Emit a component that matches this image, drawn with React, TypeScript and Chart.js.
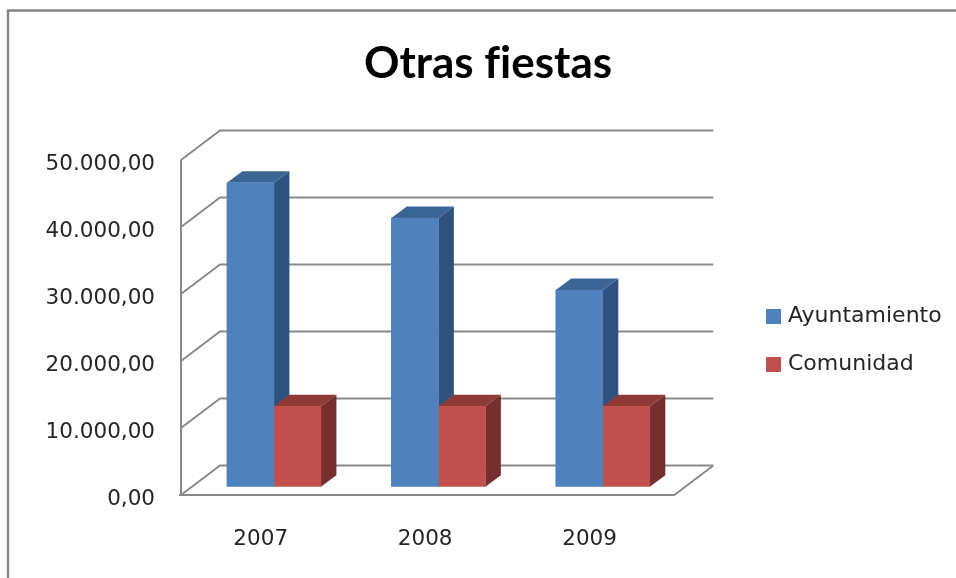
import React, { useEffect, useRef } from "react";
import { Chart, registerables } from "chart.js";

Chart.register(...registerables);

const categories = ["2007", "2008", "2009"];
const ayuntamiento = [45370, 40100, 29350];
const comunidad = [12000, 12000, 12000];
const yTicks = { min: 0, max: 50000, step: 10000 };
const seriesNames = ["Ayuntamiento", "Comunidad"];
const frontColors = ["#4F81BD", "#C0504D"];
const sideColors = ["#30527F", "#772F2D"];
const topColors = ["#3A6595", "#8E3A37"];

const WALL_DX = 39;
const WALL_DY = 29.5;
const BAR_SHIFT_X = 10.7;
const BAR_SHIFT_Y = 8.3;
const BAR_DX = 15.5;
const BAR_DY = 11.5;
const LINE = "#8A8A8A";
const TEXT = "#262626";
const FONT = "'DejaVu Sans'";

const formatEs = (v: number) =>
  new Intl.NumberFormat("de-DE", { minimumFractionDigits: 2, maximumFractionDigits: 2 }).format(v);

const poly = (ctx: CanvasRenderingContext2D, pts: number[][], fill: string) => {
  ctx.beginPath();
  pts.forEach(([x, y], i) => (i ? ctx.lineTo(x, y) : ctx.moveTo(x, y)));
  ctx.closePath();
  ctx.fillStyle = fill;
  ctx.fill();
};

const scene3d = {
  id: "scene3d",
  afterLayout(chart: any) {
    const lg = chart.legend;
    const dx = 744 - lg.left;
    lg.left += dx;
    lg.right += dx;
    const dy = 279.5 - lg.top;
    lg.top += dy;
    lg.bottom += dy;
    const t = chart.titleBlock;
    t.left = 20;
    t.right = 956;
  },
  beforeDraw(chart: any) {
    const { ctx } = chart;
    ctx.textRendering = "optimizeSpeed";
    ctx.save();
    ctx.fillStyle = "#fff";
    ctx.fillRect(0, 0, chart.width, chart.height);
    ctx.strokeStyle = "#868686";
    ctx.lineWidth = 2.4;
    ctx.beginPath();
    ctx.moveTo(8, chart.height);
    ctx.lineTo(8, 10.5);
    ctx.lineTo(chart.width, 10.5);
    ctx.stroke();
    ctx.restore();
  },
  beforeDatasetsDraw(chart: any) {
    const { ctx, chartArea, scales } = chart;
    const { left, right, bottom, top } = chartArea;
    ctx.save();
    ctx.strokeStyle = LINE;
    ctx.lineWidth = 2;
    scales.y.ticks.forEach((tk: any) => {
      const py = scales.y.getPixelForValue(tk.value);
      ctx.beginPath();
      ctx.moveTo(left, py);
      ctx.lineTo(left + WALL_DX, py - WALL_DY);
      ctx.lineTo(right + WALL_DX, py - WALL_DY);
      ctx.stroke();
    });
    ctx.beginPath();
    ctx.moveTo(left, top);
    ctx.lineTo(left, bottom);
    ctx.moveTo(left - 2, bottom);
    ctx.lineTo(right, bottom);
    ctx.lineTo(right + WALL_DX, bottom - WALL_DY);
    ctx.stroke();
    ctx.translate(BAR_SHIFT_X, -BAR_SHIFT_Y);
    chart.data.datasets.forEach((_: any, di: number) => {
      chart.getDatasetMeta(di).data.forEach((bar: any) => {
        const l = bar.x - bar.width / 2;
        const r = bar.x + bar.width / 2;
        const y = bar.y;
        const b = bar.base;
        poly(ctx, [[r, y], [r + BAR_DX, y - BAR_DY], [r + BAR_DX, b - BAR_DY], [r, b]], sideColors[di]);
        poly(ctx, [[l, y], [l + BAR_DX, y - BAR_DY], [r + BAR_DX, y - BAR_DY], [r, y]], topColors[di]);
      });
    });
  },
  afterDatasetsDraw(chart: any) {
    chart.ctx.restore();
  },
};

export default function App() {
  const ref = useRef<HTMLCanvasElement>(null);
  useEffect(() => {
    document.body.style.margin = "0";
    const chart = new Chart(ref.current!, {
      type: "bar",
      data: {
        labels: categories,
        datasets: [
          { label: seriesNames[0], data: ayuntamiento, backgroundColor: frontColors[0], barThickness: 47 },
          { label: seriesNames[1], data: comunidad, backgroundColor: frontColors[1], barThickness: 47 },
        ],
      },
      plugins: [scene3d],
      options: {
        animation: false,
        responsive: false,
        layout: { padding: { left: 10, right: 74, top: 10, bottom: 0 } },
        plugins: {
          tooltip: { enabled: false },
          title: {
            display: true,
            text: "Otras fiestas",
            color: "#000",
            font: { family: "Lato", weight: "bold", size: 44, lineHeight: 1.2 },
            padding: { top: 27, bottom: 70.2 },
          },
          legend: {
            position: "right",
            align: "start",
            labels: {
              boxWidth: 7,
              boxHeight: 7,
              padding: 26,
              color: TEXT,
              font: { family: FONT, size: 22 },
              generateLabels: (chart: any) =>
                Chart.defaults.plugins.legend.labels.generateLabels(chart).map((item: any) => ({
                  ...item,
                  strokeStyle: item.fillStyle,
                  lineWidth: 8,
                })),
            },
          },
        },
        scales: {
          x: {
            afterFit: (s: any) => {
              s.height = 83;
            },
            grid: { display: false, drawTicks: false },
            border: { display: false },
            ticks: { padding: 32, labelOffset: -2.5, color: TEXT, font: { family: FONT, size: 21.5 } },
          },
          y: {
            min: yTicks.min,
            max: yTicks.max,
            afterFit: (s: any) => {
              s.width = 171;
            },
            grid: { display: false, drawTicks: false },
            border: { display: false },
            ticks: {
              stepSize: yTicks.step,
              padding: 26,
              labelOffset: 4,
              color: TEXT,
              font: { family: FONT, size: 21.5 },
              callback: (v: any) => formatEs(Number(v)),
            },
          },
        },
      },
    });
    return () => chart.destroy();
  }, []);
  return <canvas ref={ref} width={956} height={578} style={{ display: "block" }} />;
}
